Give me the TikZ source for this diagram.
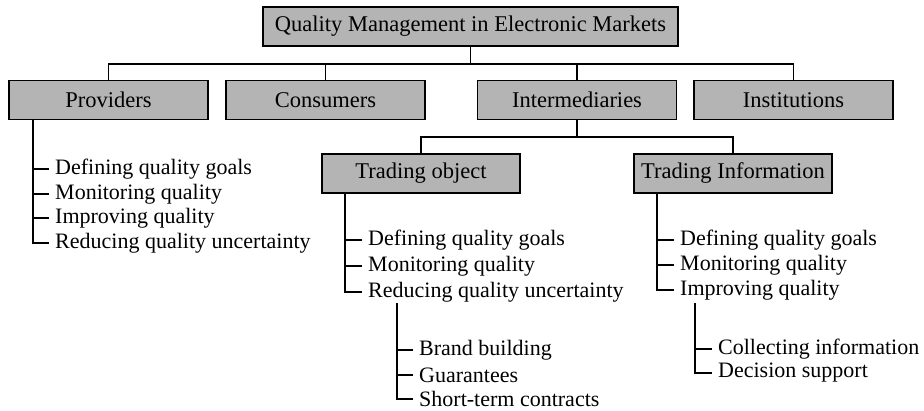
\documentclass[tikz,border=0pt]{standalone}
\usepackage{fontspec}
\setmainfont{Liberation Serif}
\definecolor{boxgray}{RGB}{180,180,180}
\begin{document}
\begin{tikzpicture}[x=1pt,y=-1pt,
  box/.style={draw=black, line width=1.5pt, fill=boxgray, minimum height=39pt, inner sep=0pt, font=\fontsize{22.5}{25}\selectfont},
  item/.style={anchor=west, inner xsep=6pt, inner ysep=0pt, font=\fontsize{22}{25}\selectfont},
  conn/.style={line width=1.2pt}]
\useasboundingbox (0,0) rectangle (924,410);
% boxes
\node[box, minimum width=415pt] (top) at (470.5,26.5) {Quality Management in Electronic Markets};
\node[box, minimum width=199pt] (prov) at (108.5,100) {Providers};
\node[box, minimum width=199pt] (cons) at (325.5,100) {Consumers};
\node[box, minimum width=199pt] (inter) at (577,100) {Intermediaries};
\node[box, minimum width=199pt] (inst) at (793.5,100) {Institutions};
\node[box, minimum width=198pt] (tobj) at (421,173.5) {Trading object};
\node[box, minimum width=198pt] (tinf) at (733,173.5) {Trading Information};
% bus level 1
\coordinate (busL) at (108.5,64);
\coordinate (busR) at (793.5,64);
\draw[conn] (prov.north) -- (busL) -- (busR) -- (inst.north);
\draw[conn] (cons.north) -- (cons.north |- busL);
\draw[conn] (inter.north) -- (inter.north |- busL);
\draw[conn] (top.south) -- (top.south |- busL);
% bus level 2
\coordinate (bus2L) at (421,137);
\coordinate (bus2R) at (733,137);
\draw[conn] (tobj.north) -- (bus2L) -- (bus2R) -- (tinf.north);
\draw[conn] (inter.south) -- (inter.south |- bus2L);
% providers list
\node[item] (p1) at (49,169) {Defining quality goals};
\node[item] (p2) at (49,194) {Monitoring quality};
\node[item] (p3) at (49,218) {Improving quality};
\node[item] (p4) at (49,243) {Reducing quality uncertainty};
\coordinate (pv) at (33,119);
\draw[conn] (pv) |- (p4.west);
\draw[conn] (pv) |- (p1.west);
\draw[conn] (pv) |- (p2.west);
\draw[conn] (pv) |- (p3.west);
% trading object list
\node[item] (o1) at (362,240) {Defining quality goals};
\node[item] (o2) at (362,266) {Monitoring quality};
\node[item] (o3) at (362,292) {Reducing quality uncertainty};
\coordinate (ov) at (345,193);
\draw[conn] (ov) |- (o3.west);
\draw[conn] (ov) |- (o1.west);
\draw[conn] (ov) |- (o2.west);
% trading information list
\node[item] (i1) at (674,240) {Defining quality goals};
\node[item] (i2) at (674,265) {Monitoring quality};
\node[item] (i3) at (674,290) {Improving quality};
\coordinate (iv) at (657,193);
\draw[conn] (iv) |- (i3.west);
\draw[conn] (iv) |- (i1.west);
\draw[conn] (iv) |- (i2.west);
% sub list under reducing
\node[item] (r1) at (413,350) {Brand building};
\node[item] (r2) at (413,375) {Guarantees};
\node[item] (r3) at (413,399) {Short-term contracts};
\coordinate (rv) at (397,303);
\draw[conn] (rv) |- (r3.west);
\draw[conn] (rv) |- (r1.west);
\draw[conn] (rv) |- (r2.west);
% sub list under improving
\node[item] (m1) at (712,349) {Collecting information};
\node[item] (m2) at (712,373) {Decision support};
\coordinate (mv) at (695,303);
\draw[conn] (mv) |- (m2.west);
\draw[conn] (mv) |- (m1.west);
\end{tikzpicture}
\end{document}
